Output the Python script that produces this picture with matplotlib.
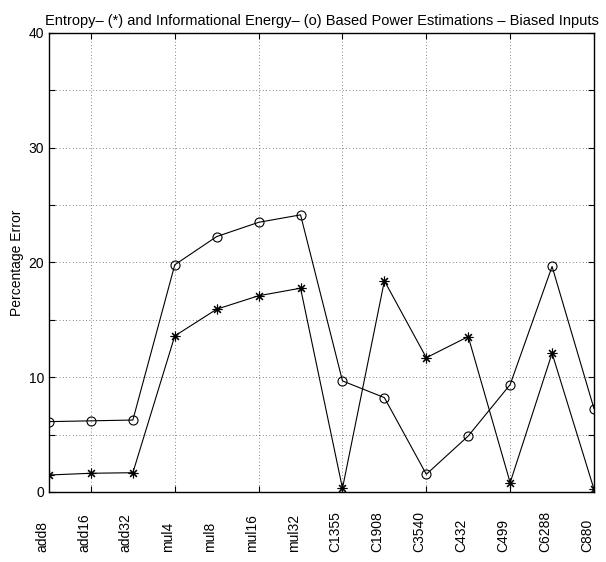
import matplotlib
matplotlib.use('Agg')
import matplotlib.pyplot as plt
from matplotlib.transforms import blended_transform_factory

plt.rcParams['font.family'] = ['Liberation Sans', 'DejaVu Sans']

circuits = ['add8', 'add16', 'add32', 'mul4', 'mul8', 'mul16', 'mul32',
            'C1355', 'C1908', 'C3540', 'C432', 'C499', 'C6288', 'C880']
info_energy = [6.13, 6.2, 6.27, 19.8, 22.26, 23.5, 24.15,
               9.68, 8.22, 1.54, 4.88, 9.36, 19.65, 7.26]
entropy = [1.48, 1.63, 1.68, 13.6, 15.93, 17.1, 17.76,
           0.32, 18.4, 11.7, 13.54, 0.81, 12.09, 0.24]
y_labels = ['0', '10', '20', '30', '40']

x = list(range(1, len(circuits) + 1))

fig = plt.figure(figsize=(6.06, 5.62), dpi=100)
ax = fig.add_axes([0.0809, 0.1246, 0.8993, 0.8167])

ax.plot(x, info_energy, color='black', lw=0.8, marker='o', ms=6.5,
        mfc='none', mec='black', mew=0.8)
ax.plot(x, entropy, color='black', lw=0.8, marker=(8, 2, 0), ms=7,
        mec='black', mew=0.8)

ax.set_xlim(1, 14)
ax.set_ylim(0, 40)
ax.set_xticks(range(2, 15, 2))
ax.set_xticklabels([])
ax.set_yticks(range(0, 41, 5))
ax.set_yticklabels([y_labels[i // 2] if i % 2 == 0 else '' for i in range(9)])
ax.grid(True, linestyle=(0, (1, 3)), color='0.35', lw=0.6)
ax.tick_params(direction='in', top=True, right=True, length=4,
               labelsize=10, width=0.8)
for s in ax.spines.values():
    s.set_linewidth(1.0)

# circuit names: rotated, bottom aligned, right edge at the data position
trans = blended_transform_factory(ax.transData, fig.transFigure)
for xi, name in zip(x, circuits):
    ax.text(xi, 10 / 562, name, rotation=90, ha='right', va='bottom',
            fontsize=10, transform=trans, rotation_mode='default')

ax.set_ylabel('Percentage Error', fontsize=10)
ax.yaxis.set_label_coords(-0.046, 0.5)
ax.set_title('Entropy\u2013 (*) and Informational Energy\u2013 (o) Based Power Estimations \u2013 Biased Inputs',
             fontsize=10.5, pad=6)

fig.savefig('out.png', dpi=100)
